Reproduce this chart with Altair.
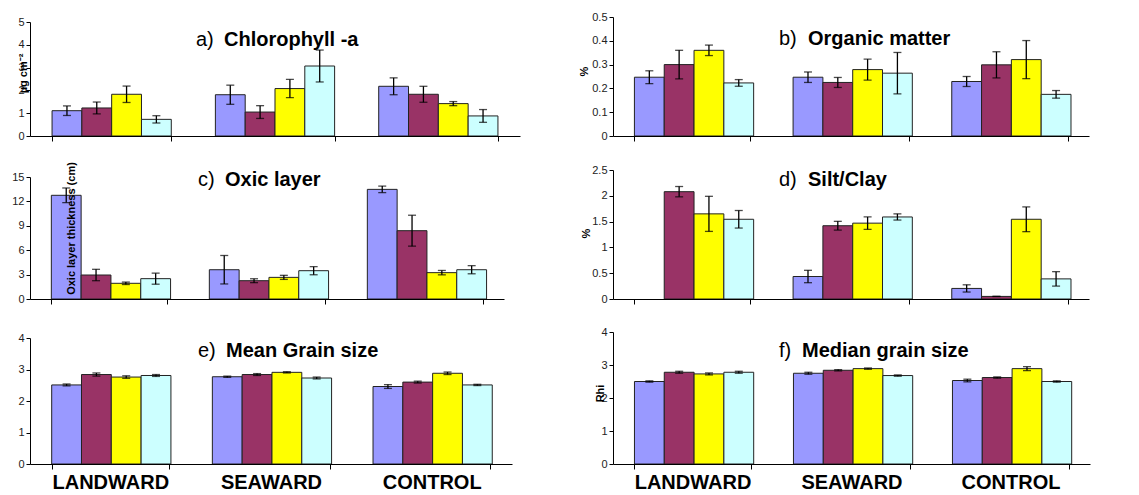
import altair as alt
import pandas as pd

sites = ["LANDWARD", "SEAWARD", "CONTROL"]
series = ["Series 1", "Series 2", "Series 3", "Series 4"]
colors = ["#9999FF", "#993366", "#FFFF00", "#CCFFFF"]

# values ordered LANDWARD s1..s4, SEAWARD s1..s4, CONTROL s1..s4
chl_mean = [1.11, 1.23, 1.83, 0.73, 1.81, 1.05, 2.08, 3.07, 2.18, 1.83, 1.42, 0.88]
chl_err = [0.21, 0.26, 0.36, 0.16, 0.42, 0.28, 0.40, 0.70, 0.37, 0.35, 0.09, 0.28]

om_mean = [0.247, 0.300, 0.360, 0.223, 0.247, 0.225, 0.279, 0.264, 0.229, 0.299, 0.321, 0.175]
om_err = [0.027, 0.060, 0.022, 0.014, 0.022, 0.021, 0.044, 0.087, 0.021, 0.055, 0.080, 0.016]

oxic_mean = [12.75, 2.95, 1.93, 2.50, 3.60, 2.25, 2.66, 3.48, 13.48, 8.40, 3.24, 3.60]
oxic_err = [0.90, 0.70, 0.15, 0.68, 1.75, 0.24, 0.25, 0.50, 0.40, 1.90, 0.27, 0.50]

silt_mean = [None, 2.08, 1.65, 1.545, 0.436, 1.42, 1.47, 1.59, 0.205, 0.05, 1.545, 0.39]
silt_err = [None, 0.10, 0.34, 0.17, 0.12, 0.085, 0.12, 0.06, 0.07, 0.0, 0.24, 0.14]

mgs_mean = [2.51, 2.84, 2.76, 2.81, 2.77, 2.84, 2.91, 2.73, 2.46, 2.60, 2.88, 2.51]
mgs_err = [0.03, 0.05, 0.04, 0.03, 0.02, 0.03, 0.02, 0.03, 0.06, 0.03, 0.04, 0.02]

med_mean = [2.50, 2.78, 2.73, 2.78, 2.75, 2.84, 2.89, 2.68, 2.53, 2.62, 2.89, 2.50]
med_err = [0.02, 0.03, 0.03, 0.03, 0.03, 0.02, 0.02, 0.02, 0.04, 0.02, 0.06, 0.02]

FONT = "Liberation Sans"


def panel(mean, err, ymax, yvals, width, height, top, letter, name,
          tx, tx2, ty, ytitle, ytx, yty, show_labels):
    df = pd.DataFrame({
        "site": [s for s in sites for _ in series],
        "series": series * len(sites),
        "v": mean,
        "e": err,
    })
    xenc = alt.X(
        "site:N", sort=sites,
        scale=alt.Scale(domain=sites, paddingInner=0.27, paddingOuter=0.135),
        axis=alt.Axis(title=None, labels=show_labels, tickBand="extent",
                      tickSize=5, tickColor="black", domainColor="black",
                      labelAngle=0, labelFont=FONT, labelFontSize=20,
                      labelFontWeight="bold", labelColor="black",
                      labelPadding=3, zindex=1),
    )
    xoff = alt.XOffset("series:N", scale=alt.Scale(domain=series, paddingInner=0, paddingOuter=0))
    yscale = alt.Scale(domain=[0, ymax], range=[height, top], nice=False, zero=True)
    yaxis = alt.Axis(values=yvals, labelExpr="format(datum.value, '.1~f')",
                     tickSize=4, tickColor="black", domainColor="black",
                     labelFont=FONT, labelFontSize=11, labelColor="#222",
                     labelPadding=2, grid=False, zindex=1,
                     title=ytitle if ytitle else None,
                     titleFont=FONT, titleFontSize=11, titleFontWeight="bold",
                     titleColor="black", titleAngle=270, titleAlign="center",
                     titleBaseline="middle", titleX=ytx, titleY=yty)
    base = alt.Chart(df).transform_filter("isValid(datum.v)")
    bars = base.mark_bar(stroke="#222", strokeWidth=1).encode(
        x=xenc, xOffset=xoff,
        y=alt.Y("v:Q", scale=yscale, axis=yaxis),
        color=alt.Color("series:N", scale=alt.Scale(domain=series, range=colors), legend=None),
    )
    eb = base.transform_calculate(lo="datum.v - datum.e", hi="datum.v + datum.e")
    rule = eb.mark_rule(color="black", strokeWidth=1.3).encode(
        x=xenc, xOffset=xoff,
        y=alt.Y("lo:Q", scale=yscale, axis=yaxis), y2="hi:Q")
    cap1 = eb.mark_tick(color="black", thickness=1.3, size=8).encode(
        x=xenc, xOffset=xoff, y=alt.Y("lo:Q", scale=yscale, axis=yaxis))
    cap2 = eb.mark_tick(color="black", thickness=1.3, size=8).encode(
        x=xenc, xOffset=xoff, y=alt.Y("hi:Q", scale=yscale, axis=yaxis))
    tdf = pd.DataFrame({"letter": [letter], "name": [name]})
    t1 = alt.Chart(tdf).mark_text(font=FONT, fontSize=20, align="left", baseline="alphabetic",
                                  color="black").encode(
        text="letter:N", x=alt.value(tx), y=alt.value(ty))
    t2 = alt.Chart(tdf).mark_text(font=FONT, fontSize=20, fontWeight="bold", align="left",
                                  baseline="alphabetic", color="black").encode(
        text="name:N", x=alt.value(tx2), y=alt.value(ty))
    return alt.layer(bars, rule, cap1, cap2, t1, t2).properties(width=width, height=height)


pa = panel(chl_mean, chl_err, 5, [0, 1, 2, 3, 4, 5], 490, 119, 5,
           "a)", "Chlorophyll -a", 166, 194, 29, "µg cm⁻²", -7, 56, False)
pb = panel(om_mean, om_err, 0.5, [0, 0.1, 0.2, 0.3, 0.4, 0.5], 476, 119, 0,
           "b)", "Organic matter", 166, 195, 28, "%", -29, 54, False)
pc = panel(oxic_mean, oxic_err, 15, [0, 3, 6, 9, 12, 15], 474, 130, 8,
           "c)", "Oxic layer", 168, 195, 17, "Oxic layer thickness (cm)", 41, 59, False)
pd_ = panel(silt_mean, silt_err, 2.5, [0, 0.5, 1, 1.5, 2, 2.5], 476, 130, 1,
            "d)", "Silt/Clay", 166, 195, 17, "%", -27, 64, False)
pe = panel(mgs_mean, mgs_err, 4, [0, 1, 2, 3, 4], 482, 132, 6,
           "e)", "Mean Grain size", 168, 196, 25, "", 0, 0, True)
pf = panel(med_mean, med_err, 4, [0, 1, 2, 3, 4], 477, 132, 0,
           "f)", "Median grain size", 166, 189, 25, "Rhi", -13, 61, True)

chart = alt.concat(pa, pb, pc, pd_, pe, pf, columns=2,
                   spacing={"row": 33, "column": 93}, bounds="flush").properties(
    padding={"left": 3, "top": 3, "right": 5, "bottom": 0}
).configure(font=FONT).configure_view(stroke=None).configure_axis(grid=False)

chart.save("out.html", embed_options={"renderer": "svg", "actions": False})
